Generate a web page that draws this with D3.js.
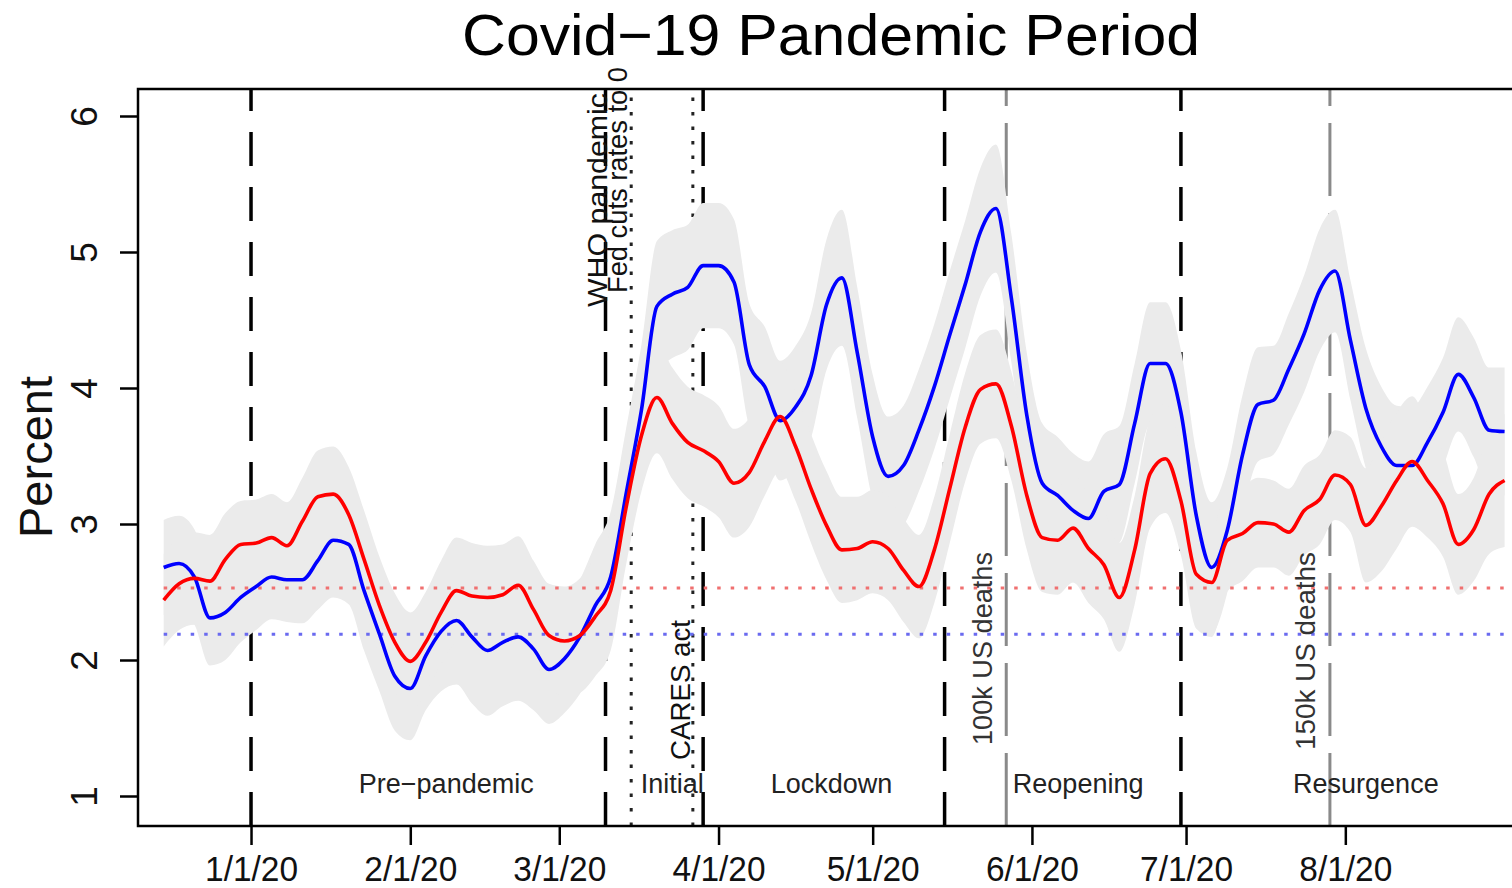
<!DOCTYPE html>
<html>
<head>
<meta charset="utf-8">
<script src="https://cdn.jsdelivr.net/npm/d3@7"></script>
<style>
  html, body { margin: 0; padding: 0; background: #fff; }
  svg { display: block; font-family: 'Liberation Sans', Arial, sans-serif; }
</style>
</head>
<body>
<div id="chart"></div>
<script>
// dates of the smoothed series (every 3 days)
const dates = [
  '2019-12-15','2019-12-18','2019-12-21','2019-12-24','2019-12-27','2019-12-30',
  '2020-01-02','2020-01-05','2020-01-08','2020-01-11','2020-01-14','2020-01-17',
  '2020-01-20','2020-01-23','2020-01-26','2020-01-29','2020-02-01','2020-02-04',
  '2020-02-07','2020-02-10','2020-02-13','2020-02-16','2020-02-19','2020-02-22',
  '2020-02-25','2020-02-28','2020-03-02','2020-03-05','2020-03-08','2020-03-11',
  '2020-03-14','2020-03-17','2020-03-20','2020-03-23','2020-03-26','2020-03-29',
  '2020-04-01','2020-04-04','2020-04-07','2020-04-10','2020-04-13','2020-04-16',
  '2020-04-19','2020-04-22','2020-04-25','2020-04-28','2020-05-01','2020-05-04',
  '2020-05-07','2020-05-10','2020-05-13','2020-05-16','2020-05-19','2020-05-22',
  '2020-05-25','2020-05-28','2020-05-31','2020-06-03','2020-06-06','2020-06-09',
  '2020-06-12','2020-06-15','2020-06-18','2020-06-21','2020-06-24','2020-06-27',
  '2020-06-30','2020-07-03','2020-07-06','2020-07-09','2020-07-12','2020-07-15',
  '2020-07-18','2020-07-21','2020-07-24','2020-07-27','2020-07-30','2020-08-02',
  '2020-08-05','2020-08-08','2020-08-11','2020-08-14','2020-08-17','2020-08-20',
  '2020-08-23','2020-08-26','2020-08-29','2020-09-01'
];

const blue = [
  2.68,2.71,2.61,2.31,2.35,2.46,2.54,2.61,2.59,2.59,
  2.73,2.88,2.85,2.51,2.19,1.88,1.79,2.03,2.21,2.29,
  2.17,2.07,2.13,2.17,2.08,1.93,2.01,2.17,2.40,2.61,
  3.22,3.84,4.60,4.69,4.74,4.90,4.90,4.78,4.17,4.01,
  3.76,3.86,4.09,4.61,4.81,4.26,3.64,3.35,3.43,3.69,
  4.01,4.39,4.76,5.15,5.32,4.66,3.80,3.30,3.21,3.10,
  3.04,3.24,3.29,3.74,4.18,4.18,3.82,3.06,2.68,2.95,
  3.51,3.88,3.91,4.14,4.40,4.72,4.86,4.35,3.85,3.57,
  3.43,3.43,3.60,3.82,4.10,3.93,3.69,3.68
];

const red = [
  2.44,2.56,2.60,2.58,2.74,2.85,2.86,2.90,2.84,3.02,
  3.20,3.22,3.07,2.74,2.40,2.13,1.99,2.13,2.35,2.51,
  2.47,2.46,2.48,2.55,2.37,2.18,2.14,2.18,2.32,2.51,
  3.12,3.65,3.93,3.74,3.60,3.54,3.46,3.30,3.38,3.61,
  3.79,3.57,3.26,2.99,2.81,2.82,2.87,2.82,2.66,2.54,
  2.81,3.26,3.71,3.99,4.03,3.72,3.21,2.90,2.88,2.97,
  2.82,2.70,2.46,2.81,3.37,3.48,3.17,2.63,2.57,2.88,
  2.93,3.01,3.00,2.94,3.10,3.18,3.36,3.29,2.99,3.13,
  3.32,3.46,3.32,3.15,2.85,2.96,3.22,3.32
];

// half width of the grey confidence bands
const blueBand = [
  0.35,0.35,0.35,0.35,0.35,0.33,0.32,0.31,0.31,0.32,
  0.36,0.42,0.44,0.44,0.42,0.40,0.38,0.40,0.44,0.47,
  0.49,0.48,0.47,0.47,0.45,0.40,0.40,0.42,0.45,0.48,
  0.48,0.48,0.48,0.47,0.46,0.46,0.46,0.46,0.45,0.44,
  0.44,0.45,0.46,0.48,0.50,0.48,0.46,0.44,0.44,0.45,
  0.46,0.47,0.47,0.47,0.47,0.47,0.46,0.44,0.43,0.42,
  0.42,0.42,0.43,0.44,0.45,0.45,0.46,0.47,0.48,0.46,
  0.44,0.42,0.40,0.41,0.43,0.45,0.45,0.44,0.44,0.44,
  0.44,0.43,0.41,0.40,0.42,0.44,0.46,0.47
];

const redBand = [
  0.34,0.34,0.34,0.34,0.34,0.32,0.32,0.32,0.32,0.32,
  0.34,0.35,0.35,0.36,0.36,0.36,0.36,0.37,0.38,0.39,
  0.39,0.38,0.37,0.36,0.36,0.38,0.40,0.42,0.44,0.44,
  0.42,0.41,0.41,0.41,0.41,0.41,0.41,0.40,0.40,0.40,
  0.40,0.40,0.40,0.40,0.39,0.38,0.38,0.38,0.38,0.38,
  0.39,0.40,0.40,0.40,0.40,0.40,0.40,0.40,0.40,0.40,
  0.40,0.40,0.40,0.40,0.40,0.40,0.40,0.40,0.40,0.38,
  0.35,0.33,0.32,0.32,0.33,0.33,0.33,0.35,0.42,0.48,
  0.50,0.48,0.42,0.39,0.37,0.38,0.44,0.49
];

// pre-pandemic averages (dotted)
const blueRef = 2.19;
const redRef = 2.53;

const yTicks = [1, 2, 3, 4, 5, 6];
const xTicks = ['2020-01-01','2020-02-01','2020-03-01','2020-04-01','2020-05-01','2020-06-01','2020-07-01','2020-08-01'];

// phase boundaries (black dashed)
const phaseDates = ['2020-01-01','2020-03-10','2020-03-29','2020-05-15','2020-06-30'];
const phaseNames = ['Pre\u2212pandemic','Initial','Lockdown','Reopening','Resurgence'];
const phaseLabelDates = ['2020-02-08','2020-03-23','2020-04-23','2020-06-10','2020-08-05'];

// events (dotted)
const eventDates = ['2020-03-15','2020-03-27'];
const eventNames = ['Fed cuts rates to 0','CARES act'];

// deaths milestones (grey dashed)
const deathDates = ['2020-05-27','2020-07-29'];
const deathNames = ['100k US deaths','150k US deaths'];

const W = 1512, H = 888;
const plotLeft = 138, plotTop = 89, plotBottom = 826, plotRight = 1520, boxRight = 1530;
const parse = d3.utcParse('%Y-%m-%d');

const svg = d3.select('#chart').append('svg')
  .attr('width', W)
  .attr('height', H);

const x = d3.scaleUtc()
  .domain([parse('2019-12-10'), parse('2020-09-04')])
  .range([plotLeft, plotRight]);

const y = d3.scaleLinear()
  .domain([1, 6])
  .range([796, 116]);

const rows = dates.map((d, i) => ({
  date: parse(d), blue: blue[i], red: red[i], bhw: blueBand[i], rhw: redBand[i]
}));

// vertical lines, drawn first so the bands cover them
function vline(dateStr, color, width, dash) {
  svg.append('line')
    .attr('x1', x(parse(dateStr))).attr('x2', x(parse(dateStr)))
    .attr('y1', plotBottom).attr('y2', plotTop)
    .attr('stroke', color)
    .attr('stroke-width', width)
    .attr('stroke-dasharray', dash);
}
phaseDates.forEach(d => vline(d, '#000', 3.5, '34,21'));
eventDates.forEach(d => vline(d, '#222', 3, '3.5,11'));
deathDates.forEach(d => vline(d, '#8a8a8a', 3, '73,17'));

// bands
const bandArea = (key, hw) => d3.area()
  .x(d => x(d.date))
  .y0(d => y(d[key] - d[hw]))
  .y1(d => y(d[key] + d[hw]))
  .curve(d3.curveMonotoneX);

svg.append('path').datum(rows)
  .attr('d', bandArea('blue', 'bhw'))
  .attr('fill', '#ebebeb');
svg.append('path').datum(rows)
  .attr('d', bandArea('red', 'rhw'))
  .attr('fill', '#ebebeb');

// reference dotted lines
const refStart = x(rows[0].date);
[[redRef, '#f07070'], [blueRef, '#6a6af0']].forEach(([v, c]) => {
  svg.append('line')
    .attr('x1', refStart).attr('x2', boxRight)
    .attr('y1', y(v)).attr('y2', y(v))
    .attr('stroke', c)
    .attr('stroke-width', 3)
    .attr('stroke-dasharray', '3.5,10');
});

// series lines
const line = key => d3.line()
  .x(d => x(d.date))
  .y(d => y(d[key]))
  .curve(d3.curveMonotoneX);

svg.append('path').datum(rows)
  .attr('d', line('blue'))
  .attr('fill', 'none')
  .attr('stroke', '#0000ff')
  .attr('stroke-width', 3.6)
  .attr('stroke-linejoin', 'round');
svg.append('path').datum(rows)
  .attr('d', line('red'))
  .attr('fill', 'none')
  .attr('stroke', '#ff0000')
  .attr('stroke-width', 3.6)
  .attr('stroke-linejoin', 'round');

// box
svg.append('rect')
  .attr('x', plotLeft).attr('y', plotTop)
  .attr('width', boxRight - plotLeft).attr('height', plotBottom - plotTop)
  .attr('fill', 'none')
  .attr('stroke', '#000')
  .attr('stroke-width', 2.5);

// axes
const gx = svg.append('g')
  .attr('transform', `translate(0,${plotBottom})`)
  .call(d3.axisBottom(x)
    .tickValues(xTicks.map(parse))
    .tickFormat(d3.utcFormat('%-m/%-d/%y'))
    .tickSize(19)
    .tickSizeOuter(0));
gx.attr('font-family', null).attr('font-size', null);
gx.select('.domain').remove();
gx.selectAll('.tick line').attr('stroke', '#000').attr('stroke-width', 2.5);
gx.selectAll('.tick text')
  .attr('y', 55).attr('dy', null)
  .attr('fill', '#111')
  .attr('font-size', 35)
  .attr('textLength', 93)
  .attr('lengthAdjust', 'spacingAndGlyphs');

const gy = svg.append('g')
  .attr('transform', `translate(${plotLeft},0)`)
  .call(d3.axisLeft(y).tickValues(yTicks).tickSize(18).tickFormat(d3.format('d')));
gy.attr('font-family', null).attr('font-size', null);
gy.select('.domain').remove();
gy.selectAll('.tick line').attr('stroke', '#000').attr('stroke-width', 2.5);
gy.selectAll('.tick text')
  .attr('x', null).attr('dy', null)
  .attr('text-anchor', 'middle')
  .attr('transform', 'translate(-41,0) rotate(-90)')
  .attr('fill', '#111')
  .attr('font-size', 37);

// title and axis label
svg.append('text')
  .attr('x', 831).attr('y', 55)
  .attr('text-anchor', 'middle')
  .attr('font-size', 58)
  .attr('textLength', 738)
  .attr('lengthAdjust', 'spacingAndGlyphs')
  .text('Covid\u221219 Pandemic Period');

svg.append('text')
  .attr('transform', 'translate(52,457) rotate(-90)')
  .attr('text-anchor', 'middle')
  .attr('font-size', 47)
  .attr('fill', '#111')
  .text('Percent');

// phase labels
phaseNames.forEach((name, i) => {
  svg.append('text')
    .attr('x', x(parse(phaseLabelDates[i])))
    .attr('y', 793)
    .attr('text-anchor', 'middle')
    .attr('font-size', 27)
    .attr('fill', '#222')
    .text(name);
});

// vertical annotations
function vtext(label, bx, startY, len, color) {
  svg.append('text')
    .attr('transform', `translate(${bx},${startY}) rotate(-90)`)
    .attr('font-size', 28)
    .attr('fill', color)
    .attr('textLength', len)
    .attr('lengthAdjust', 'spacingAndGlyphs')
    .text(label);
}
vtext('WHO pandemic', x(parse(phaseDates[1])) + 1, 307, 214, '#111');
vtext(eventNames[0], x(parse(eventDates[0])) - 4, 293, 226, '#111');
vtext(eventNames[1], x(parse(eventDates[1])) - 3, 760, 140, '#111');
vtext(deathNames[0], x(parse(deathDates[0])) - 14, 745, 193, '#333');
vtext(deathNames[1], x(parse(deathDates[1])) - 15, 750, 198, '#333');
</script>
</body>
</html>
